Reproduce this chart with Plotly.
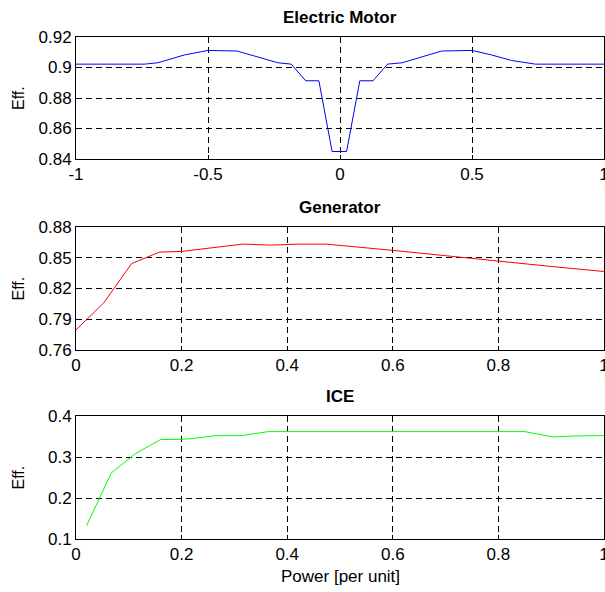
import plotly.graph_objects as go

# Electric Motor
em_x = [-1, -0.74, -0.69, -0.59, -0.5, -0.39, -0.235, -0.185, -0.13, -0.08, -0.03,
        0.025, 0.075, 0.125, 0.18, 0.235, 0.385, 0.5, 0.575, 0.65, 0.74, 1]
em_y = [0.9022, 0.9022, 0.9031, 0.9082, 0.9112, 0.9108, 0.9031, 0.9022, 0.8913, 0.8913, 0.8449,
        0.8449, 0.8913, 0.8913, 0.9022, 0.9031, 0.9108, 0.9112, 0.9082, 0.9046, 0.9022, 0.9022]

# Generator
gen_x = [0, 0.0526, 0.1053, 0.1579, 0.2, 0.25, 0.316, 0.368, 0.421, 0.474, 0.526, 0.6, 0.7, 0.8, 0.9, 1.0]
gen_y = [0.7796, 0.806, 0.8443, 0.8555, 0.8562, 0.8594, 0.8633, 0.8623, 0.8633, 0.8633, 0.861,
         0.8572, 0.852, 0.8465, 0.8415, 0.8366]

# ICE
ice_x = [0.02, 0.067, 0.113, 0.16, 0.2, 0.22, 0.265, 0.314, 0.364, 0.85, 0.904, 0.95, 1.0]
ice_y = [0.1324, 0.2613, 0.3084, 0.3424, 0.3432, 0.3449, 0.3521, 0.3521, 0.3619, 0.3619, 0.3489,
         0.3515, 0.3521]

titles = ["Electric Motor", "Generator", "ICE"]
em_ticks = [-1, -0.5, 0, 0.5, 1]
em_yticks = [0.84, 0.86, 0.88, 0.9, 0.92]
gen_ticks = [0, 0.2, 0.4, 0.6, 0.8, 1]
gen_yticks = [0.76, 0.79, 0.82, 0.85, 0.88]
ice_yticks = [0.1, 0.2, 0.3, 0.4]

FONT = "Liberation Sans, Arial, Helvetica, sans-serif"
W, H = 605, 592
L, R, T, B = 76, 1, 37, 53
ph = H - T - B

def dom(top_px, bot_px):
    return [(H - B - bot_px) / ph, (H - B - top_px) / ph]

fig = go.Figure()
fig.add_trace(go.Scatter(x=em_x, y=em_y, mode="lines", line=dict(color="#0000ff", width=1),
                         xaxis="x", yaxis="y", showlegend=False))
fig.add_trace(go.Scatter(x=gen_x, y=gen_y, mode="lines", line=dict(color="#ff0000", width=1),
                         xaxis="x2", yaxis="y2", showlegend=False))
fig.add_trace(go.Scatter(x=ice_x, y=ice_y, mode="lines", line=dict(color="#00ff00", width=1),
                         xaxis="x3", yaxis="y3", showlegend=False))

common = dict(showline=True, linecolor="black", linewidth=1, mirror=True,
              ticks="inside", ticklen=4, tickcolor="black",
              showgrid=True, gridcolor="black", griddash="6px,4px", gridwidth=0.8,
              zeroline=False, automargin=False, ticklabeloverflow="allow",
              tickfont=dict(family=FONT, size=17, color="black"))

doms = [dom(37, 159), dom(227, 350), dom(416, 539)]
xt = [em_ticks, gen_ticks, gen_ticks]
xr = [[-1, 1], [0, 1], [0, 1]]
yt = [em_yticks, gen_yticks, ice_yticks]
yr = [[0.84, 0.92], [0.76, 0.88], [0.1, 0.4]]

for i in range(3):
    s = "" if i == 0 else str(i + 1)
    fig.layout["xaxis" + s] = dict(common, domain=[0, 1], range=xr[i], tickvals=xt[i],
                                   ticktext=[("%g" % v) for v in xt[i]],
                                   anchor="y" + s)
    fig.layout["yaxis" + s] = dict(common, domain=doms[i], range=yr[i], tickvals=yt[i],
                                   ticktext=[("%g" % v) for v in yt[i]],
                                   anchor="x" + s)
    fig.add_annotation(text="<b>" + titles[i] + "</b>", xref="paper", yref="paper",
                       x=0.5, y=doms[i][1], yshift=8, xanchor="center", yanchor="bottom",
                       showarrow=False, font=dict(family=FONT, size=17, color="black"))
    fig.add_annotation(text="Eff.", xref="paper", yref="paper",
                       x=(18 - L) / (W - L - R), y=(doms[i][0] + doms[i][1]) / 2,
                       xanchor="center", yanchor="middle", textangle=-90,
                       showarrow=False, font=dict(family=FONT, size=16, color="black"))

fig.add_annotation(text="Power [per unit]", xref="paper", yref="paper",
                   x=0.5, y=-(576 - (H - B)) / ph, xanchor="center", yanchor="middle",
                   showarrow=False, font=dict(family=FONT, size=17, color="black"))

fig.update_layout(width=W, height=H, margin=dict(l=L, r=R, t=T, b=B),
                  plot_bgcolor="white", paper_bgcolor="white",
                  font=dict(family=FONT, color="black"))
fig.write_html("out.html", config={"displayModeBar": False},
               post_script="document.body.style.margin='0px';document.body.style.overflow='hidden';")
